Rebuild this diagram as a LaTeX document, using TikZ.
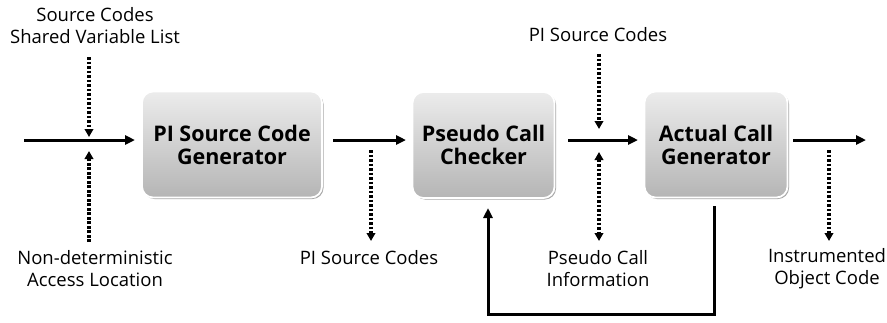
\documentclass[tikz,border=0pt]{standalone}
\usepackage{fontspec}
\setmainfont{Open Sans}
\usetikzlibrary{arrows.meta,shadows}
\begin{document}
\begin{tikzpicture}[x=1pt,y=-1pt,
  box/.style={rounded corners=11pt, top color=gray!15, bottom color=gray!58,
    draw=white, line width=1.8pt, drop shadow={shadow xshift=1.5pt,shadow yshift=-1.5pt,fill=gray!75,opacity=0.9},
    minimum height=106pt, align=center,
    font=\fontsize{21.5}{23}\selectfont\bfseries},
  lbl/.style={align=center, font=\fontsize{18.5}{22}\selectfont, inner sep=0pt},
  flow/.style={line width=3pt, -{Triangle[length=10pt,width=9pt]}},
  dot/.style={line width=3.2pt, dash pattern=on 2.6pt off 1.9pt, -{Triangle[length=8pt,width=8.5pt]}},
  dotboth/.style={line width=3.2pt, dash pattern=on 2.6pt off 1.9pt, {Triangle[length=8pt,width=8.5pt]}-{Triangle[length=8pt,width=8.5pt]}}]
\useasboundingbox (0,0) rectangle (887,322);
% boxes
\node[box, minimum width=180pt] (g) at (232,144.5) {PI Source Code\\Generator};
\node[box, minimum width=142pt] (c) at (483.5,145) {Pseudo Call\\Checker};
\node[box, minimum width=143pt] (a) at (716,144.5) {Actual Call\\Generator};
% coordinates
\coordinate (in) at (24,140);
\coordinate (out) at (866,140);
% main flow
\draw[flow] (in) -- (135,140);
\draw[flow] (333,140) -- (406,140);
\draw[flow] (568,140) -- (638,140);
\draw[flow] (793,140) -- (out);
% labels
\node[lbl] (l1) at (95,26) {Source Codes\\Shared Variable List};
\node[lbl] (l2) at (95,269) {Non-deterministic\\Access Location};
\node[lbl] (l3) at (369,258) {PI Source Codes};
\node[lbl] (l4) at (598,35) {PI Source Codes};
\node[lbl] (l5) at (598,269) {Pseudo Call\\Information};
\node[lbl] (l6) at (827,269) {Instrumented\\Object Code};
% dotted arrows
\coordinate (d1a) at (89,57); \coordinate (d1b) at (89,137);
\coordinate (d2a) at (89,242); \coordinate (d2b) at (89,151);
\coordinate (d3a) at (371,150); \coordinate (d3b) at (371,241);
\coordinate (d4a) at (599,54); \coordinate (d4b) at (599,129);
\coordinate (d5a) at (599,152); \coordinate (d5b) at (599,241);
\coordinate (d6a) at (829,150); \coordinate (d6b) at (829,241);
\draw[dot] (d1a) -- (d1b);
\draw[dot] (d2a) -- (d2b);
\draw[dot] (d3a) -- (d3b);
\draw[dot] (d4a) -- (d4b);
\draw[dotboth] (d5a) -- (d5b);
\draw[dot] (d6a) -- (d6b);
% feedback
\coordinate (f1) at (714,206);
\coordinate (f2) at (488,208);
\draw[flow] (f1) -- (714,314) -- (488,314) -- (f2);
\end{tikzpicture}
\end{document}
